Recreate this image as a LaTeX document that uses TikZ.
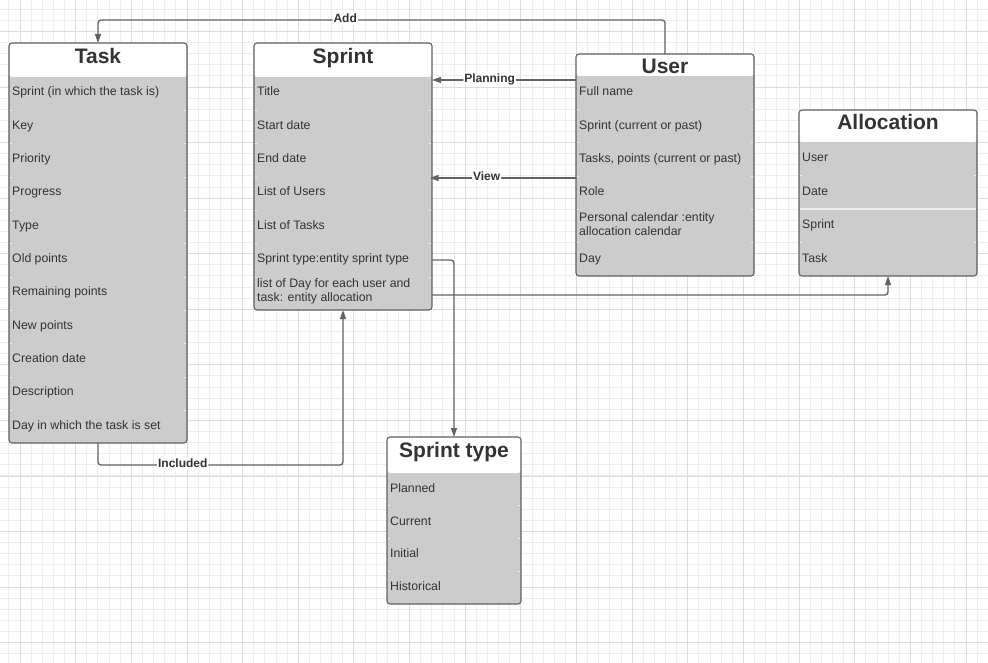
\documentclass[tikz,border=0pt]{standalone}
\usepackage{fontspec}
\setmainfont{Liberation Sans}
\usetikzlibrary{arrows.meta,calc}
\definecolor{txt}{HTML}{333333}
\definecolor{fillg}{HTML}{CCCCCC}
\definecolor{bord}{HTML}{606060}
\definecolor{linec}{HTML}{636363}
\definecolor{gridminor}{HTML}{EDEDED}
\definecolor{gridmajor}{HTML}{DCDCDC}
\definecolor{tickc}{HTML}{EEEEEE}
\begin{document}
\begin{tikzpicture}[x=1pt,y=-1pt,
  ent/.style={draw=bord, line width=1.1pt, rounded corners=3pt, fill=fillg, anchor=north west, inner sep=0pt, outer sep=0pt},
  hdr/.style={path picture={\fill[white] (path picture bounding box.north west) rectangle ([yshift=-#1]path picture bounding box.north east);}},
  ttl/.style={font=\fontsize{21}{25}\selectfont\bfseries, text=txt, text height=15pt, text depth=0pt, inner sep=0pt},
  row/.style={font=\fontsize{12.3}{14.5}\selectfont, text=txt, text height=8.6pt, text depth=0pt, inner sep=0pt, anchor=west, align=left},
  lbl/.style={font=\fontsize{12}{14}\selectfont\bfseries, text=txt, text height=8.6pt, text depth=0pt, fill=white, inner xsep=1pt, inner ysep=2pt, yshift=1.5pt},
  conn/.style={draw=linec, line width=1.3pt, rounded corners=3pt, -{Triangle[length=9pt,width=6pt]}},
  tick/.style={draw=tickc, line width=0.8pt}
]
\useasboundingbox (0,0) rectangle (988,663);
\fill[white] (0,0) rectangle (988,663);
% grid
\foreach \i in {0,...,89} \draw[gridminor, line width=0.9pt] ({8.87+11.13*\i},0) -- ({8.87+11.13*\i},663);
\foreach \i in {0,...,59} \draw[gridminor, line width=0.9pt] (0,{9.28+11.11*\i}) -- (988,{9.28+11.11*\i});
\foreach \i in {0,...,17} \draw[gridmajor, line width=0.9pt] ({20+55.65*\i},0) -- ({20+55.65*\i},663);
\foreach \i in {0,...,11} \draw[gridmajor, line width=0.9pt] (0,{31.5+55.57*\i}) -- (988,{31.5+55.57*\i});

% Task
\node[ent, hdr=34pt, minimum width=178pt, minimum height=400pt] (task) at (9,43) {};
\node[ttl] (tasktitle) at (98,56) {Task};
\node[row] (task1) at (12,91.5) {Sprint (in which the task is)};
\node[row] (task2) at (12,124.8) {Key};
\node[row] (task3) at (12,158.2) {Priority};
\node[row] (task4) at (12,191.5) {Progress};
\node[row] (task5) at (12,224.8) {Type};
\node[row] (task6) at (12,258.2) {Old points};
\node[row] (task7) at (12,291.5) {Remaining points};
\node[row] (task8) at (12,324.8) {New points};
\node[row] (task9) at (12,358.2) {Creation date};
\node[row] (task10) at (12,391.5) {Description};
\node[row] (task11) at (12,424.8) {Day in which the task is set};
\foreach \k in {1,...,10} {
  \draw[tick] (9.6,{77+33.33*\k}) -- ++(2.5,0);
  \draw[tick] (186.4,{77+33.33*\k}) -- ++(-2.5,0);
}

% Sprint
\node[ent, hdr=34pt, minimum width=178pt, minimum height=267pt] (sprint) at (254,43) {};
\node[ttl] (sprinttitle) at (343,56) {Sprint};
\node[row] (sprint1) at (257,91.5) {Title};
\node[row] (sprint2) at (257,124.8) {Start date};
\node[row] (sprint3) at (257,158.2) {End date};
\node[row] (sprint4) at (257,191.5) {List of Users};
\node[row] (sprint5) at (257,224.8) {List of Tasks};
\node[row] (sprint6) at (257,258.2) {Sprint type:entity sprint type};
\node[row] (sprint7) at (257,297.5) {list of Day for each user and\\task: entity allocation};
\foreach \k in {1,...,6} {
  \draw[tick] (254.6,{77+33.33*\k}) -- ++(2.5,0);
  \draw[tick] (431.4,{77+33.33*\k}) -- ++(-2.5,0);
}

% User
\node[ent, hdr=22pt, minimum width=178pt, minimum height=222pt] (user) at (576,54) {};
\node[ttl] (usertitle) at (665,66.5) {User};
\node[row] (user1) at (579,91.5) {Full name};
\node[row] (user2) at (579,124.8) {Sprint (current or past)};
\node[row] (user3) at (579,158.2) {Tasks, points (current or past)};
\node[row] (user4) at (579,191.5) {Role};
\node[row] (user5) at (579,231.5) {Personal calendar :entity\\allocation calendar};
\node[row] (user6) at (579,258.2) {Day};
\foreach \k in {1,...,5} {
  \draw[tick] (576.6,{76+33.33*\k}) -- ++(2.5,0);
  \draw[tick] (753.4,{76+33.33*\k}) -- ++(-2.5,0);
}

% Allocation
\node[ent, hdr=32pt, minimum width=178pt, minimum height=166pt] (alloc) at (799,110) {};
\node[ttl] (alloctitle) at (888,122) {Allocation};
\draw[tickc, line width=1.2pt] (800,209) -- (976,209);
\node[row] (alloc1) at (802,157.5) {User};
\node[row] (alloc2) at (802,191) {Date};
\node[row] (alloc3) at (802,224.5) {Sprint};
\node[row] (alloc4) at (802,258) {Task};
\foreach \k in {1,3} {
  \draw[tick] (799.6,{142+33.5*\k}) -- ++(2.5,0);
  \draw[tick] (976.4,{142+33.5*\k}) -- ++(-2.5,0);
}

% Sprint type
\node[ent, hdr=36pt, minimum width=134pt, minimum height=167pt] (stype) at (387,437) {};
\node[ttl] (stypetitle) at (454,450) {Sprint type};
\node[row] (stype1) at (390,488.5) {Planned};
\node[row] (stype2) at (390,521.2) {Current};
\node[row] (stype3) at (390,553) {Initial};
\node[row] (stype4) at (390,586.5) {Historical};
\foreach \k in {1,...,3} {
  \draw[tick] (387.6,{473+32.75*\k}) -- ++(2.5,0);
  \draw[tick] (520.4,{473+32.75*\k}) -- ++(-2.5,0);
}

% connectors
\draw[conn] (user.north) -- ++(0,-34) -| node[lbl, pos=0.282] {Add} (task.north);
\draw[conn] (user.west |- 0,80) -- node[lbl, pos=0.6] {Planning} (sprint.east |- 0,80);
\draw[conn] (user.west |- 0,178) -- node[lbl, pos=0.61] {View} ([xshift=-2.5pt]sprint.east |- 0,178);
\draw[conn] (sprint.east |- 0,260) -| (stype.north);
\draw[conn] (sprint.east |- 0,295) -| (alloc.south);
\draw[conn] (task.south) -- ++(0,22) -| node[lbl, pos=0.173] {Included} (sprint.south);
\end{tikzpicture}
\end{document}
